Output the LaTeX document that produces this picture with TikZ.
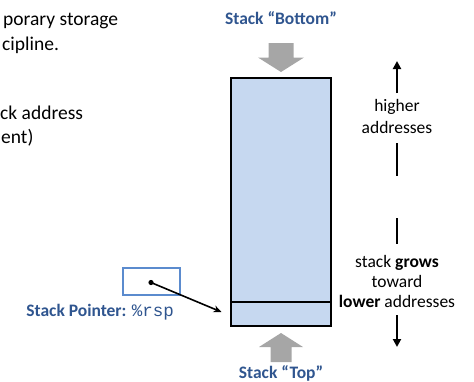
\documentclass[tikz,border=0pt]{standalone}
\usepackage{fontspec}
\setmainfont{Carlito}
\setmonofont{Liberation Mono}
\usetikzlibrary{arrows.meta}
\definecolor{stackblue}{RGB}{47,85,143}
\definecolor{cellfill}{RGB}{198,216,240}
\definecolor{ptrblue}{RGB}{91,139,206}
\definecolor{arrowgray}{RGB}{166,166,166}
\tikzset{
  lbl/.style={font=\fontsize{17.5}{21}\selectfont\bfseries, text=stackblue, inner sep=0pt, anchor=base},
  side/.style={font=\fontsize{17.5}{21}\selectfont, inner sep=0pt, anchor=base},
  body/.style={font=\fontsize{19.5}{24}\selectfont, inner sep=0pt, anchor=base west},
  cell/.style={draw=black, line width=2pt, fill=cellfill, inner sep=0pt, outer sep=0pt, minimum width=100pt},
  blockarrow/.style={fill=arrowgray, draw=none},
  dirline/.style={line width=2.4pt, draw=black},
  dirarrow/.style={dirline, -{Triangle[width=8pt,length=8pt]}},
}
\begin{document}
\begin{tikzpicture}[x=1pt,y=-1pt]
\useasboundingbox (0,0) rectangle (474,381);
% left text (clipped fragments)
\node[body] (t1) at (3,25) {porary storage};
\node[body] (t2) at (2,50) {cipline.};
\node[body] (t3) at (0,119) {ck address};
\node[body] (t4) at (1,143) {ent)};
% stack labels
\node[lbl] (bot) at (281,24) {Stack “Bottom”};
\node[lbl] (topl) at (281,378) {Stack “Top”};
% gray block arrows
\fill[blockarrow] (268.5,43) -- (293.5,43) -- (293.5,57.5) -- (304,57.5) -- (281,72) -- (258,57.5) -- (268.5,57.5) -- cycle;
\fill[blockarrow] (270.5,362) -- (291.5,362) -- (291.5,347) -- (303,347) -- (281,333) -- (259,347) -- (270.5,347) -- cycle;
% stack cells
\node[cell, minimum height=224pt] (upper) at (281,190) {};
\node[cell, minimum height=24pt] (topcell) at (281,314) {};
% stack pointer
\node[draw=ptrblue, line width=1.5pt, minimum width=57pt, minimum height=27pt, inner sep=0pt] (rspbox) at (151.5,281.5) {};
\coordinate (dot) at (151,282.5);
\fill (dot) circle (2.6pt);
\coordinate (ptrend) at (221.5,312);
\draw[line width=1.6pt, -{Stealth[width=7pt,length=8pt]}] (dot) -- (ptrend);
\node[font=\fontsize{17.5}{21}\selectfont, text=stackblue, inner sep=0pt, anchor=base east] (ptrlbl) at (174,316) {\textbf{Stack Pointer:} \texttt{\%rsp}};
% right side
\node[side] (higher) at (397,111) {higher};
\node[side] (addr1) at (397,133) {addresses};
\node[side] (grows) at (397,267) {stack \textbf{grows}};
\node[side] (toward) at (397,287) {toward};
\node[side] (lower) at (397,307) {\textbf{lower} addresses};
\coordinate (upbase) at (397,93);
\coordinate (uptip) at (397,61);
\coordinate (l1a) at (397,143);
\coordinate (l1b) at (397,176);
\coordinate (l2a) at (397,218);
\coordinate (l2b) at (397,244);
\coordinate (dnbase) at (397,315);
\coordinate (dntip) at (397,347);
\draw[dirarrow] (upbase) -- (uptip);
\draw[dirline] (l1a) -- (l1b);
\draw[dirline] (l2a) -- (l2b);
\draw[dirarrow] (dnbase) -- (dntip);
\end{tikzpicture}
\end{document}
